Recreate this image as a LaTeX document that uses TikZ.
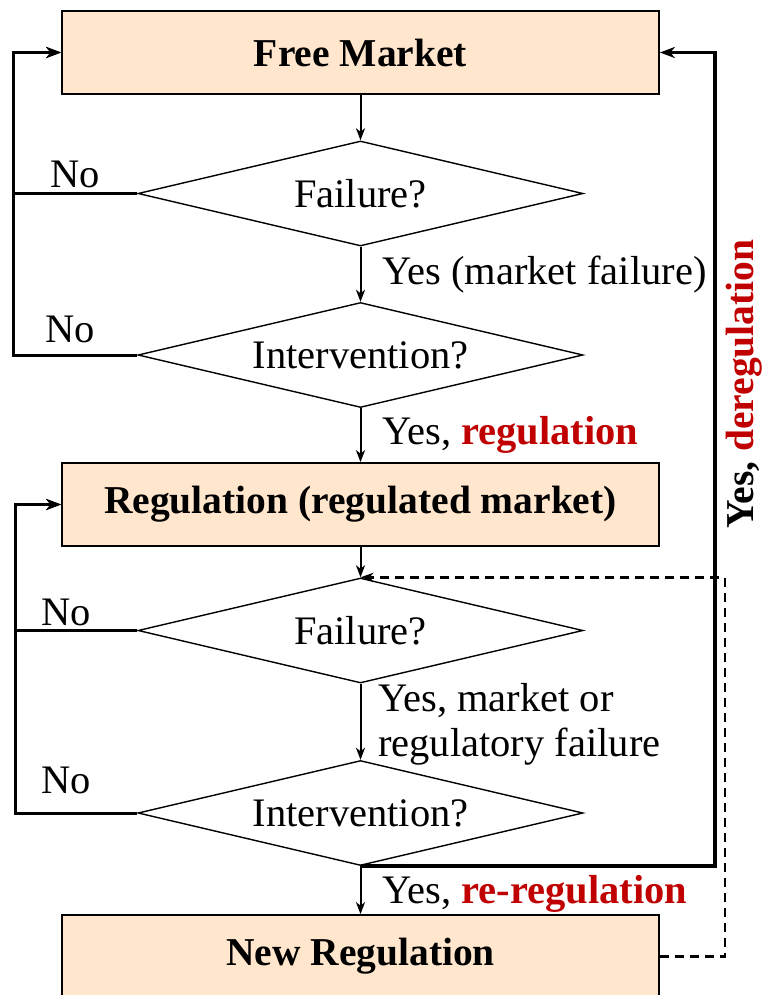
\documentclass[tikz,border=0pt]{standalone}
\usepackage{fontspec}
\setmainfont{Liberation Serif}
\usetikzlibrary{shapes.geometric,arrows.meta}
\definecolor{boxfill}{HTML}{FFE6CC}
\definecolor{accent}{HTML}{C00000}
\begin{document}
\begin{tikzpicture}[x=1pt,y=-1pt,
  font=\fontsize{40.5}{45}\selectfont,
  box/.style={draw, line width=1.7pt, fill=boxfill, minimum width=597pt, minimum height=83pt, inner sep=0pt, font=\fontsize{39.5}{45}\selectfont\bfseries},
  dia/.style={diamond, draw, line width=1.4pt, minimum width=445pt, minimum height=105pt, inner sep=0pt, shape aspect=4.24},
  flow/.style={line width=2pt, -{Stealth[length=12pt,width=9pt,inset=3.5pt]}},
  back/.style={line width=3pt, -{Stealth[length=15pt,width=11pt,inset=4.5pt]}},
  dereg/.style={line width=3.5pt, -{Stealth[length=15pt,width=11pt,inset=4.5pt]}},
  rereg/.style={line width=2.5pt, dash pattern=on 9pt off 6pt, -{Stealth[length=13pt,width=9pt,inset=4pt]}},
  lab/.style={anchor=west, inner sep=0pt},
  nolab/.style={inner sep=0pt}]
\useasboundingbox (0,0) rectangle (762,995);
\clip (0,0) rectangle (762,995);

% nodes
\node[box] (fm) at (360.5,52.5) {Free Market};
\node[dia] (d1) at (360.5,193.5) {Failure?};
\node[dia] (d2) at (360.5,355) {Intervention?};
\node[box] (reg) at (360.5,504.5) {Regulation (regulated market)};
\node[dia] (d3) at (360.5,630.5) {Failure?};
\node[dia] (d4) at (360.5,813) {Intervention?};
\node[box] (nr) at (360.5,956.5) {New Regulation};

% labels
\node[lab] (y1) at (382,275) {Yes (market failure)};
\node[lab] (y2) at (382,435) {Yes, \textcolor{accent}{\bfseries regulation}};
\node[lab, align=left] (y3) at (378,724) {Yes, market or\\regulatory failure};
\node[lab] (y4) at (382,894) {Yes, \textcolor{accent}{\bfseries re-regulation}};
\node[rotate=90, inner sep=0pt, font=\fontsize{39.5}{45}\selectfont\bfseries] (y5) at (744,384) {Yes, \textcolor{accent}{deregulation}};
\node[nolab] (n1) at (75,174) {No};
\node[nolab] (n2) at (70,329) {No};
\node[nolab] (n3) at (66,612) {No};
\node[nolab] (n4) at (66,780) {No};

% main flow
\draw[flow] (fm.south) -- (d1.north);
\draw[flow] (d1.south) -- (d2.north);
\draw[flow] (d2.south) -- (reg.north);
\draw[flow] (reg.south) -- (d3.north);
\draw[flow] (d3.south) -- (d4.north);
\draw[flow] (d4.south) -- (nr.north);

% "No" loops
\coordinate (c1) at (13,193.5);
\coordinate (c2) at (13,355);
\coordinate (c3) at (15,630.5);
\coordinate (c4) at (15,813);
\draw[back] (d1.west) -- (c1) |- (fm.west);
\draw[back] (d2.west) -- (c2) |- (fm.west);
\draw[back] (d3.west) -- (c3) |- (reg.west);
\draw[back] (d4.west) -- (c4) |- (reg.west);

% deregulation
\coordinate (c5) at (715,0);
\draw[dereg] (d4.south) -- (d4.south -| c5) |- (fm.east);

% re-regulation (dashed)
\coordinate (c6) at (725,0);
\draw[rereg] (nr.east) -- (nr.east -| c6) |- (d3.north);
\end{tikzpicture}
\end{document}
